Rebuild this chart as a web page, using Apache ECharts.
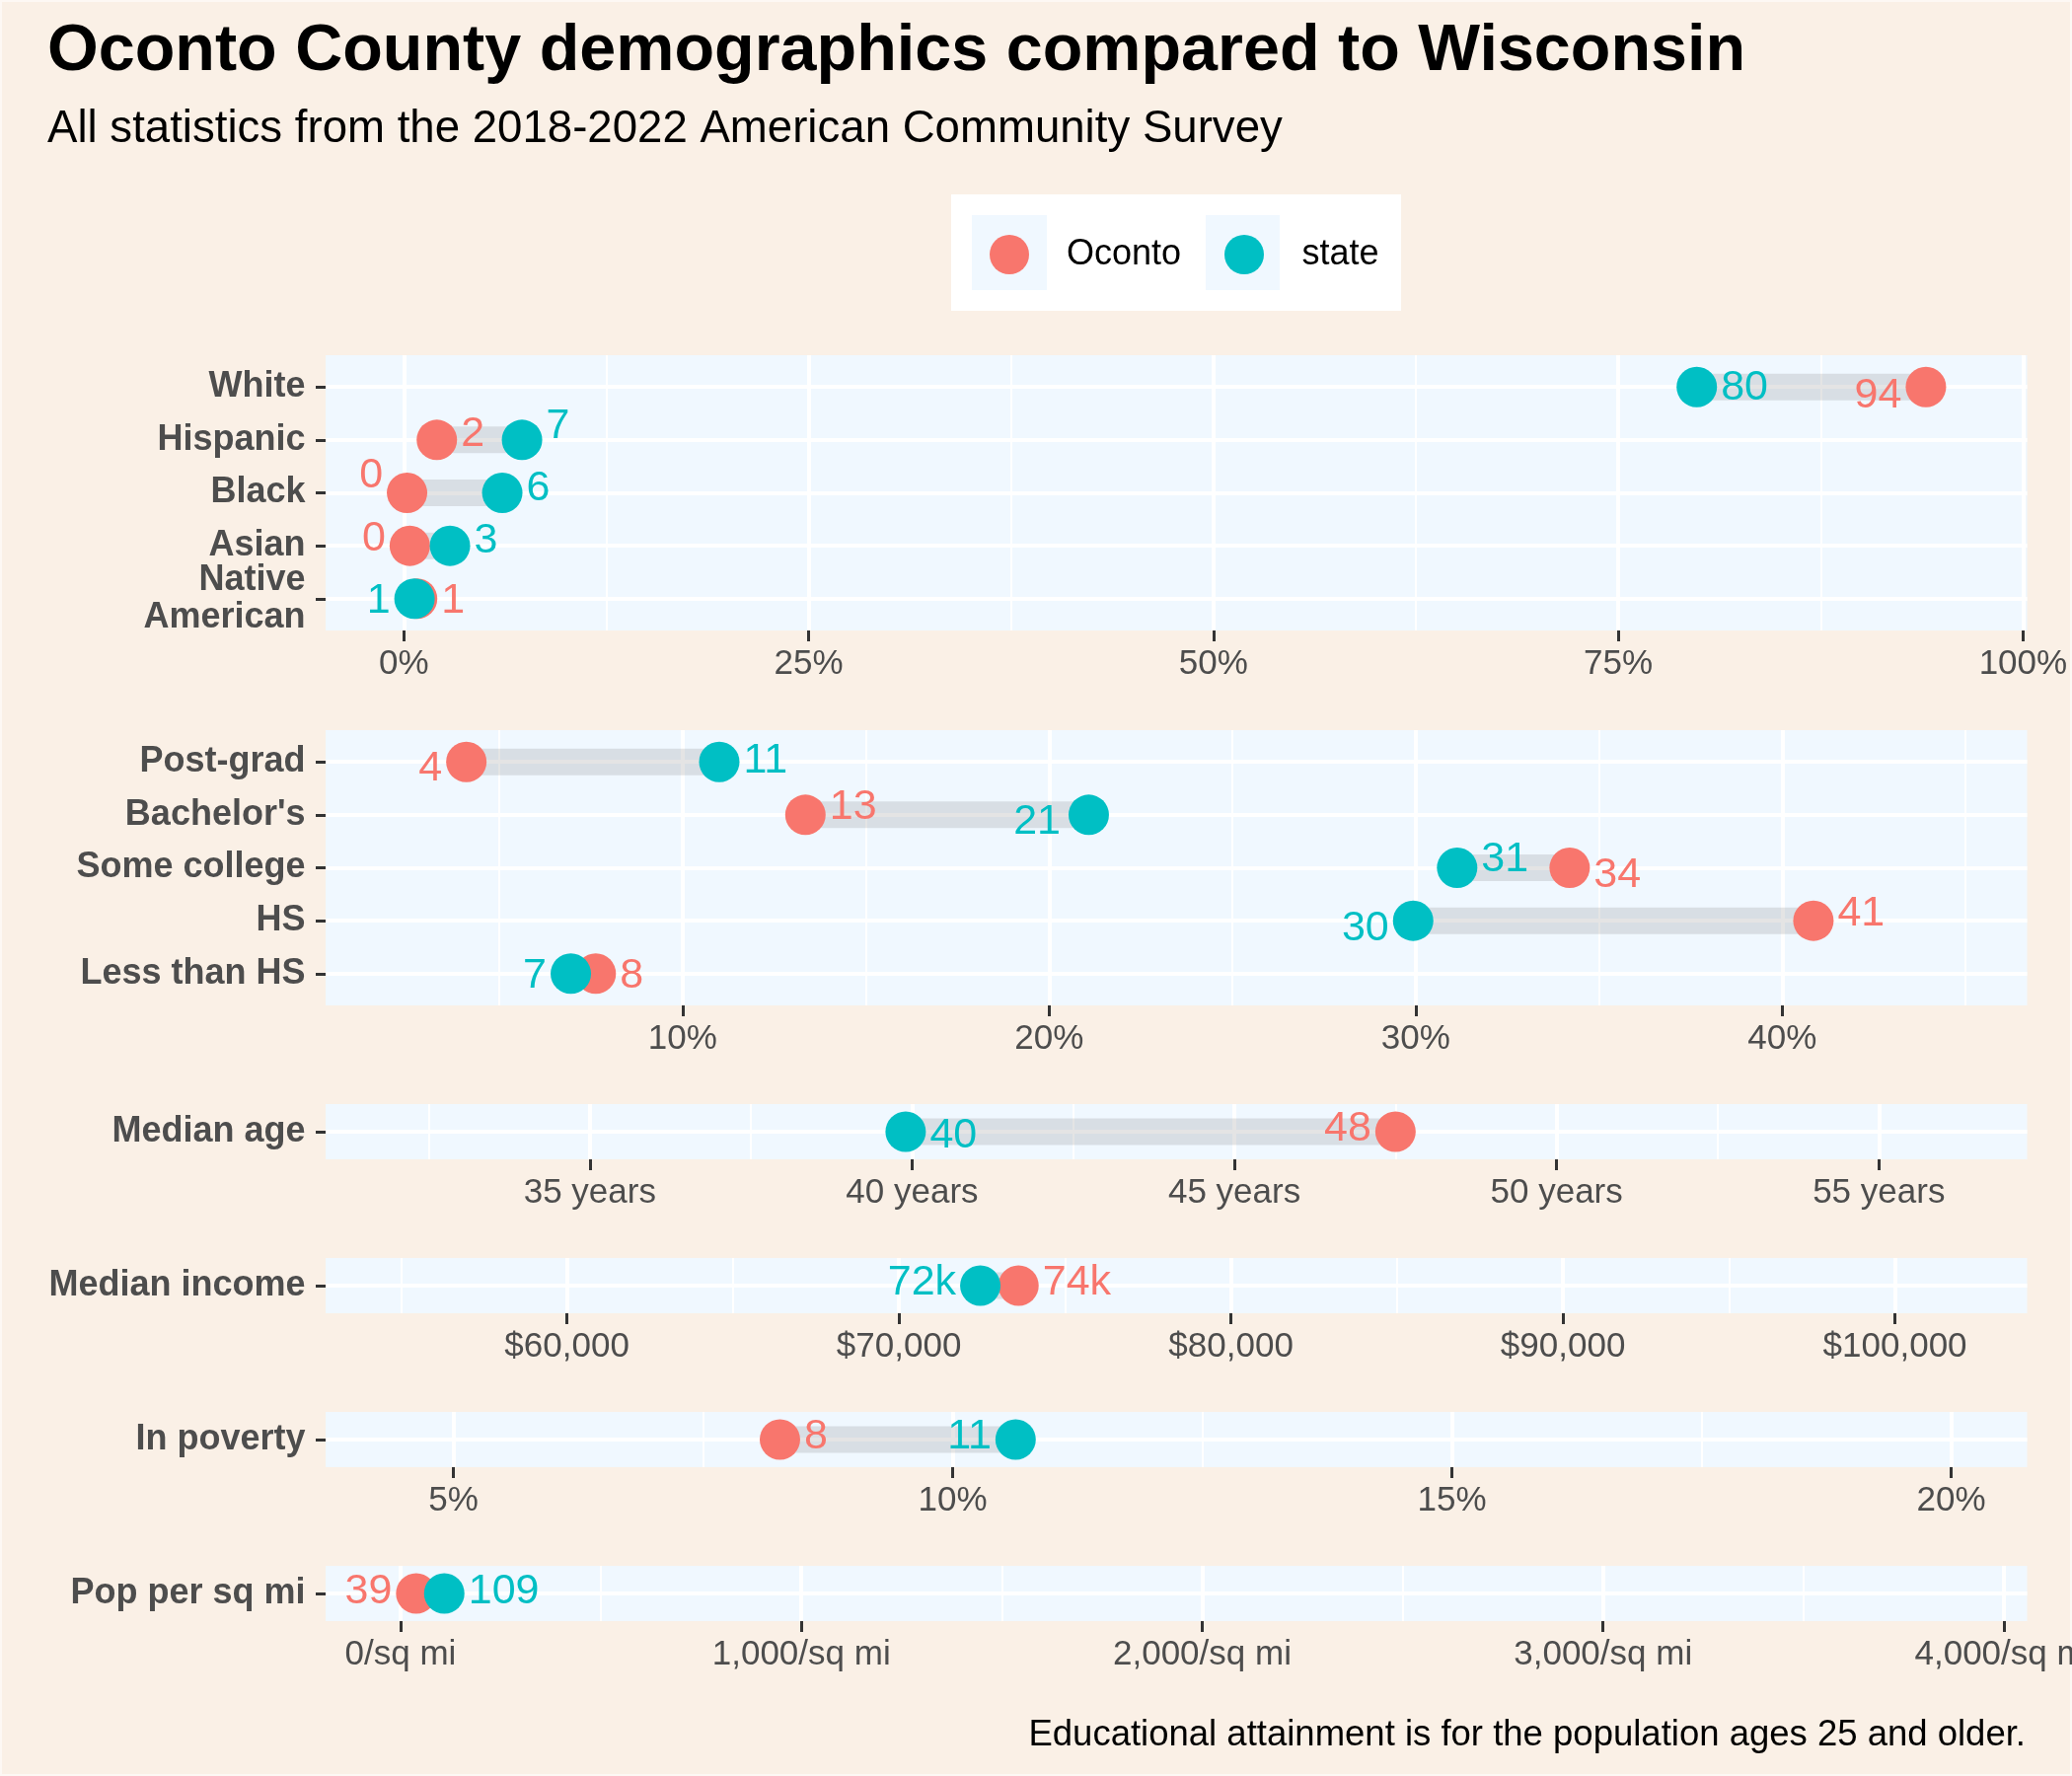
<!DOCTYPE html>
<html><head><meta charset="utf-8">
<script src="https://cdn.jsdelivr.net/npm/echarts@6/dist/echarts.min.js"></script>
<style>html,body{margin:0;padding:0;background:#FAF0E6}#c{width:2100px;height:1800px}</style>
</head><body><div id="c"></div><script>
// ---------------- DATA ----------------
const raceCats = ['White', 'Hispanic', 'Black', 'Asian', 'Native\nAmerican'];
const raceOconto = [94.0, 2.04, 0.2, 0.37, 0.82];
const raceState = [79.85, 7.3, 6.08, 2.85, 0.66];
const raceTicks = [0, 25, 50, 75, 100];
const raceMinor = [12.5, 37.5, 62.5, 87.5];

const eduCats = ['Post-grad', "Bachelor's", 'Some college', 'HS', 'Less than HS'];
const eduOconto = [4.1, 13.35, 34.2, 40.85, 7.63];
const eduState = [11.0, 21.08, 31.13, 29.93, 6.95];
const eduTicks = [10, 20, 30, 40];
const eduMinor = [5, 15, 25, 35, 45];

const ageCats = ['Median age'];
const ageOconto = [47.5];
const ageState = [39.9];
const ageTicks = [35, 40, 45, 50, 55];
const ageMinor = [32.5, 37.5, 42.5, 47.5, 52.5];

const incomeCats = ['Median income'];
const incomeOconto = [73600];
const incomeState = [72450];
const incomeTicks = [60000, 70000, 80000, 90000, 100000];
const incomeMinor = [55000, 65000, 75000, 85000, 95000];

const povCats = ['In poverty'];
const povOconto = [8.27];
const povState = [10.63];
const povTicks = [5, 10, 15, 20];
const povMinor = [7.5, 12.5, 17.5];

const densCats = ['Pop per sq mi'];
const densOconto = [39];
const densState = [109];
const densTicks = [0, 1000, 2000, 3000, 4000];
const densMinor = [500, 1500, 2500, 3500];

const seriesNames = ['Oconto', 'state'];
const titleText = 'Oconto County demographics compared to Wisconsin';
const subtitleText = 'All statistics from the 2018-2022 American Community Survey';
const captionText = 'Educational attainment is for the population ages 25 and older.';

// ---------------- LABEL PLACEMENT (side, dy, gap) ----------------
const raceOcontoLab = [['left', 9], ['right', -6], ['left', -17], ['left', -7], ['right', 2]];
const raceStateLab = [['right', 1], ['right', -14], ['right', -4], ['right', -5], ['left', 2]];
const eduOcontoLab = [['left', 7], ['right', -8], ['right', 8], ['right', -7], ['right', 2]];
const eduStateLab = [['right', -1], ['left', 7, 8], ['right', -8], ['left', 8], ['left', 2]];

// ---------------- STYLE ----------------
const FONT = "'Liberation Sans', Arial, Helvetica, sans-serif";
const COL_O = '#F8766D', COL_S = '#00BFC4';
const PANEL_BG = '#F0F8FF', PAGE_BG = '#FAF0E6';
const TEXT_GREY = '#4D4D4D', TICK_COL = '#333333';
const Y_PAD = 0.6;  // discrete axis expansion (ggplot style)

const pct = v => v + '%';
const rnd = v => String(Math.round(v));
const fmtNum = v => v.toLocaleString('en-US');

const panels = [
  {cats: raceCats, o: raceOconto, s: raceState, ticks: raceTicks, minor: raceMinor,
   min: -4.83, max: 100.25, top: 360, height: 279, fmt: pct, val: rnd,
   oLab: raceOcontoLab, sLab: raceStateLab},
  {cats: eduCats, o: eduOconto, s: eduState, ticks: eduTicks, minor: eduMinor,
   min: 0.26, max: 46.68, top: 740, height: 279, fmt: pct, val: rnd,
   oLab: eduOcontoLab, sLab: eduStateLab},
  {cats: ageCats, o: ageOconto, s: ageState, ticks: ageTicks, minor: ageMinor,
   min: 30.9, max: 57.3, top: 1119, height: 56, fmt: v => v + ' years', val: rnd,
   oLab: [['left', -3]], sLab: [['right', 4]]},
  {cats: incomeCats, o: incomeOconto, s: incomeState, ticks: incomeTicks, minor: incomeMinor,
   min: 52730, max: 103980, top: 1275, height: 56, fmt: v => '$' + fmtNum(v), val: v => Math.round(v / 1000) + 'k',
   oLab: [['right', -3]], sLab: [['left', -3]]},
  {cats: povCats, o: povOconto, s: povState, ticks: povTicks, minor: povMinor,
   min: 3.72, max: 20.76, top: 1431, height: 56, fmt: pct, val: rnd,
   oLab: [['right', -3]], sLab: [['left', -3]]},
  {cats: densCats, o: densOconto, s: densState, ticks: densTicks, minor: densMinor,
   min: -187, max: 4058, top: 1587, height: 56, fmt: v => fmtNum(v) + '/sq mi', val: rnd,
   oLab: [['left', -2]], sLab: [['right', -2]]}
];

const grid = [], xAxis = [], yAxis = [], series = [];

panels.forEach((p, i) => {
  const idx = p.cats.map((c, j) => j);
  const yMax = p.cats.length - 1 + Y_PAD;
  grid.push({left: 330, width: 1724.5, top: p.top, height: p.height, show: true,
    backgroundColor: PANEL_BG, borderWidth: 0, containLabel: false, outerBoundsMode: 'none'});
  xAxis.push({gridIndex: i, type: 'value', min: p.min, max: p.max, position: 'bottom',
    axisLine: {show: false, onZero: false},
    axisTick: {show: true, length: 11, lineStyle: {color: TICK_COL, width: 3}, customValues: p.ticks},
    axisLabel: {customValues: p.ticks, formatter: p.fmt, fontFamily: FONT, fontSize: 35,
      color: TEXT_GREY, margin: 16.5, showMinLabel: true, showMaxLabel: true},
    splitLine: {show: true, lineStyle: {color: '#FFFFFF', width: 4}}});
  xAxis.push({gridIndex: i, type: 'value', min: p.min, max: p.max, position: 'top',
    axisLine: {show: false, onZero: false},
    axisTick: {show: false, customValues: p.minor},
    axisLabel: {show: false, customValues: p.minor},
    splitLine: {show: true, lineStyle: {color: '#FFFFFF', width: 2}}});
  yAxis.push({gridIndex: i, type: 'value', inverse: true, min: -Y_PAD, max: yMax,
    axisLine: {show: false, onZero: false},
    axisTick: {show: true, length: 10, lineStyle: {color: TICK_COL, width: 3}, customValues: idx},
    axisLabel: {customValues: idx.concat([yMax]),
      formatter: v => (Number.isInteger(v) && p.cats[v]) ? p.cats[v] : '',
      fontFamily: FONT, fontWeight: 'bold', fontSize: 36, color: TEXT_GREY, margin: 20.5,
      lineHeight: 38, align: 'right', padding: [10, 0, 0, 0], showMinLabel: true, showMaxLabel: false},
    splitLine: {show: true, lineStyle: {color: '#FFFFFF', width: 4}}});

  series.push({type: 'custom', xAxisIndex: 2 * i, yAxisIndex: i, z: 1, silent: true,
    renderItem: (params, api) => {
      const a = api.coord([api.value(0), api.value(2)]);
      const b = api.coord([api.value(1), api.value(2)]);
      return {type: 'rect', shape: {x: a[0], y: a[1] - 13.5, width: b[0] - a[0], height: 27},
        style: {fill: 'rgba(120,120,120,0.2)'}};
    },
    encode: {x: [0, 1], y: 2},
    data: idx.map(j => [Math.min(p.o[j], p.s[j]), Math.max(p.o[j], p.s[j]), j])});

  const mk = (vals, labs) => vals.map((v, j) => ({value: [v, j],
    label: {position: labs[j][0], offset: [0, labs[j][1]], distance: labs[j][2] || 4}}));
  [[p.o, p.oLab, COL_O, 3, seriesNames[0]], [p.s, p.sLab, COL_S, 4, seriesNames[1]]].forEach(([vals, labs, col, z, nm]) => {
    series.push({type: 'scatter', name: nm, xAxisIndex: 2 * i, yAxisIndex: i, z: z,
      symbol: 'circle', symbolSize: 41, itemStyle: {color: col, opacity: 1},
      label: {show: true, formatter: prm => p.val(prm.value[0]), fontFamily: FONT, fontSize: 43, color: col},
      emphasis: {disabled: true}, silent: true,
      data: mk(vals, labs)});
  });
});

const legendBox = {x: 964, y: 197, w: 456, h: 118};
const keyBoxes = [{x: 985, y: 218, w: 76, h: 76}, {x: 1222, y: 218, w: 75, h: 76}];

const option = {
  backgroundColor: PAGE_BG,
  animation: false,
  title: [
    {text: titleText, left: 48, top: 20, padding: 0,
     textStyle: {fontFamily: FONT, fontSize: 66.5, lineHeight: 66, fontWeight: 'bold', color: '#000'}},
    {text: subtitleText, left: 48, top: 108, padding: 0,
     textStyle: {fontFamily: FONT, fontSize: 45.6, lineHeight: 46, fontWeight: 'normal', color: '#000'}},
    {text: captionText, right: 47, top: 1741, padding: 0,
     textStyle: {fontFamily: FONT, fontSize: 36.5, lineHeight: 36, fontWeight: 'normal', color: '#000'}}
  ],
  legend: [
    {data: [seriesNames[0]], left: 1003, top: 238, itemWidth: 106, itemHeight: 40, icon: 'circle',
     padding: 0, selectedMode: false, textStyle: {fontFamily: FONT, fontSize: 36, color: '#000'}},
    {data: [seriesNames[1]], left: 1241, top: 238, itemWidth: 107, itemHeight: 40, icon: 'circle',
     padding: 0, selectedMode: false, textStyle: {fontFamily: FONT, fontSize: 36, color: '#000'}}
  ],
  graphic: [
    {type: 'rect', shape: {x: legendBox.x, y: legendBox.y, width: legendBox.w, height: legendBox.h}, style: {fill: '#FFFFFF'}},
    ...keyBoxes.map(k => ({type: 'rect', shape: {x: k.x, y: k.y, width: k.w, height: k.h}, style: {fill: PANEL_BG}})),
    {type: 'rect', shape: {x: 0, y: 0, width: 2100, height: 1800}, style: {fill: 'none', stroke: 'rgba(255,255,255,0.55)', lineWidth: 4}}
  ],
  grid, xAxis, yAxis, series
};

const chart = echarts.init(document.getElementById('c'), null, {renderer: 'canvas'});
chart.setOption(option);
</script></body></html>
